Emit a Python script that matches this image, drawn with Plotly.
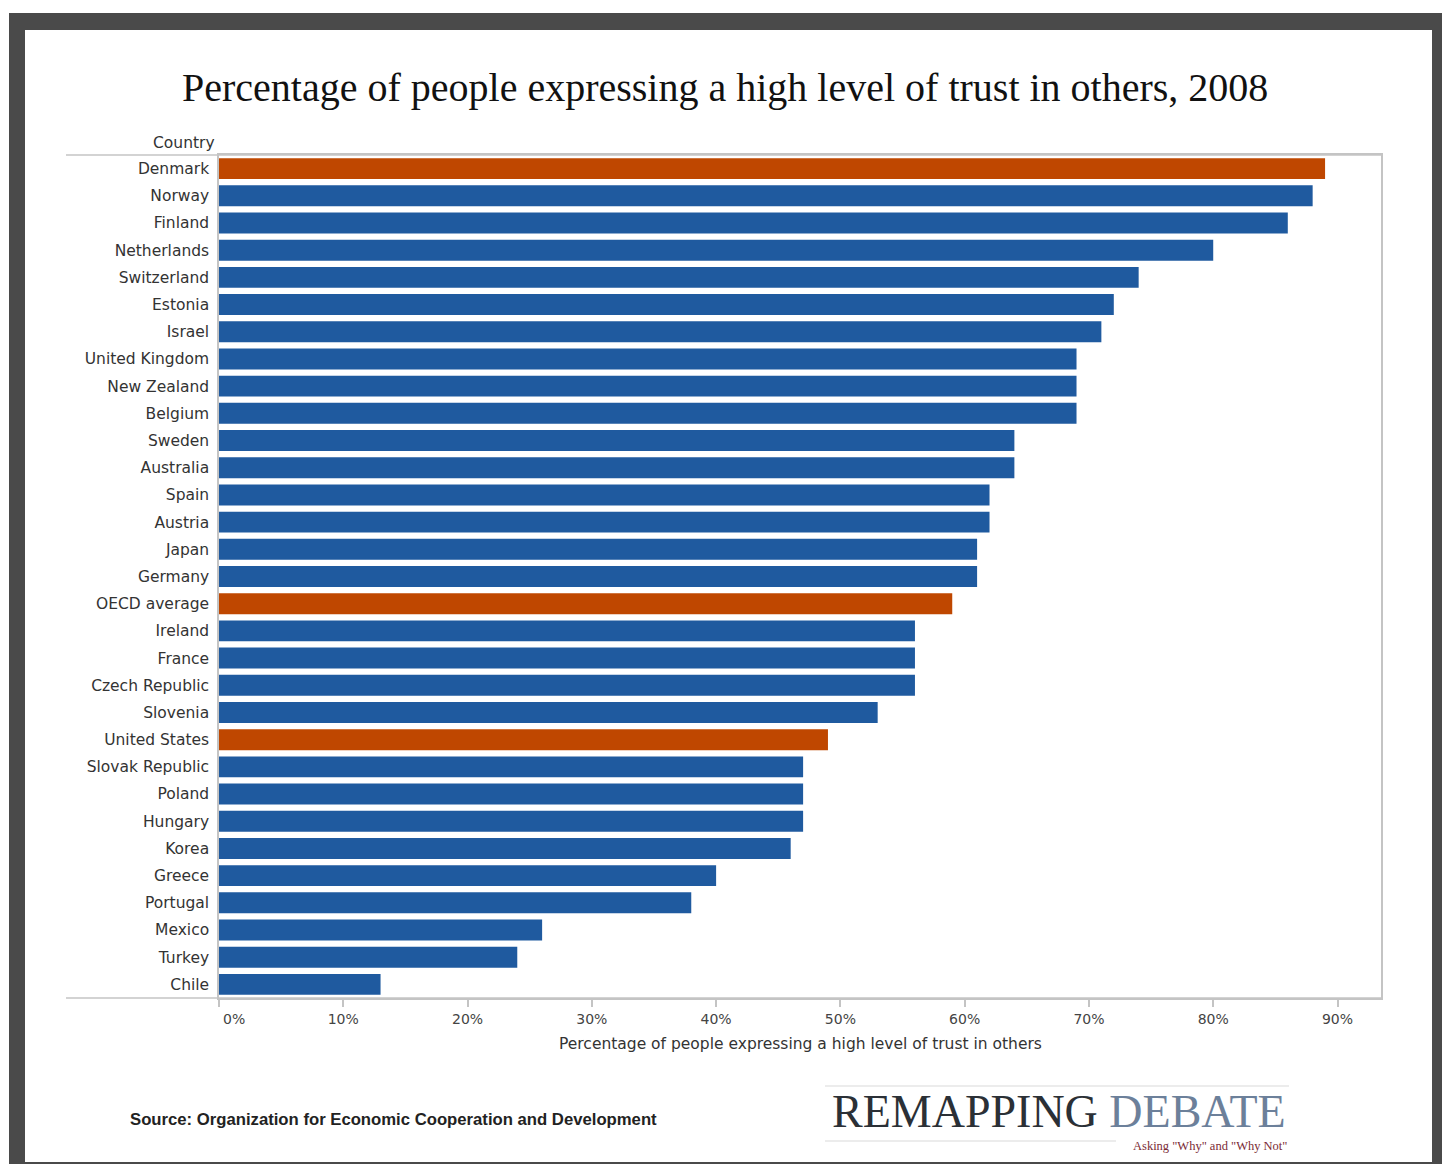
import plotly.graph_objects as go

countries = ["Denmark", "Norway", "Finland", "Netherlands", "Switzerland", "Estonia", "Israel",
             "United Kingdom", "New Zealand", "Belgium", "Sweden", "Australia", "Spain", "Austria",
             "Japan", "Germany", "OECD average", "Ireland", "France", "Czech Republic", "Slovenia",
             "United States", "Slovak Republic", "Poland", "Hungary", "Korea", "Greece", "Portugal",
             "Mexico", "Turkey", "Chile"]
values = [89, 88, 86, 80, 74, 72, 71, 69, 69, 69, 64, 64, 62, 62, 61, 61, 59, 56, 56, 56, 53,
          49, 47, 47, 47, 46, 40, 38, 26, 24, 13]
highlight = ["Denmark", "OECD average", "United States"]
tick_vals = [0, 10, 20, 30, 40, 50, 60, 70, 80, 90]
tick_text = [f"{v}%" for v in tick_vals]

ORANGE = "#BF4700"
BLUE = "#1F5A9F"
colors = [ORANGE if c in highlight else BLUE for c in countries]

W, H = 1442, 1164
L, R, T, B = 219, 1381, 155, 998
SANS = "DejaVu Sans"


def px(x):
    return (x - L) / (R - L)


def py(y):
    return (B - y) / (B - T)


fig = go.Figure()
fig.add_trace(go.Bar(
    y=countries, x=values, orientation="h",
    marker=dict(color=colors, line=dict(width=0)),
    hoverinfo="x+y",
))

shapes = []
# dark frame
shapes.append(dict(type="rect", xref="paper", yref="paper", x0=px(9), x1=px(1442), y0=py(13), y1=py(1164),
                   fillcolor="#4a4a4a", line=dict(width=0), layer="below"))
shapes.append(dict(type="rect", xref="paper", yref="paper", x0=px(25), x1=px(1432), y0=py(30), y1=py(1162),
                   fillcolor="#ffffff", line=dict(width=0), layer="below"))
# extended top/bottom rules
for yy in (T, B):
    shapes.append(dict(type="line", xref="paper", yref="paper", x0=px(66), x1=1, y0=py(yy), y1=py(yy),
                       line=dict(color="#c4c4c4", width=1.5)))
# logo rules
shapes.append(dict(type="line", xref="paper", yref="paper", x0=px(825), x1=px(1289), y0=py(1086), y1=py(1086),
                   line=dict(color="#e6e6e6", width=1.5)))
shapes.append(dict(type="line", xref="paper", yref="paper", x0=px(825), x1=px(1116), y0=py(1141), y1=py(1141),
                   line=dict(color="#e6e6e6", width=1.5)))

# first tick label (0%) sits to the right of its tick, as in the reference
tick_text_axis = [""] + tick_text[1:]

annotations = [
    dict(text="Percentage of people expressing a high level of trust in others, 2008",
         x=px(725), y=py(87), xref="paper", yref="paper", xanchor="center", yanchor="middle",
         showarrow=False, font=dict(family="Liberation Serif", size=40, color="#111111")),
    dict(text="Country", x=px(217), y=py(143), xref="paper", yref="paper", xanchor="right", yanchor="middle",
         showarrow=False, font=dict(family=SANS, size=15.5, color="#333333")),
    dict(text="Percentage of people expressing a high level of trust in others",
         x=0.5, y=py(1044), xref="paper", yref="paper", xanchor="center", yanchor="middle",
         showarrow=False, font=dict(family=SANS, size=15.5, color="#333333")),
    dict(text=tick_text[0], x=tick_vals[0], y=py(1019), xref="x", yref="paper", xanchor="left",
         yanchor="middle", xshift=2, showarrow=False, font=dict(family=SANS, size=14, color="#444444")),
    dict(text="<b>Source: Organization for Economic Cooperation and Development</b>",
         x=px(128), y=py(1119), xref="paper", yref="paper", xanchor="left", yanchor="middle",
         showarrow=False, font=dict(family="Liberation Sans", size=16.7, color="#222222")),
    dict(text="<span style='color:#2b3036'>REMAPPING</span> <span style='color:#6c809a'>DEBATE</span>",
         x=px(1059), y=py(1111), xref="paper", yref="paper", xanchor="center", yanchor="middle",
         showarrow=False, font=dict(family="Liberation Serif", size=46, color="#2b3036")),
    dict(text="Asking \"Why\" and \"Why Not\"",
         x=px(1289), y=py(1146), xref="paper", yref="paper", xanchor="right", yanchor="middle",
         showarrow=False, font=dict(family="Liberation Serif", size=12.5, color="#7b2b35")),
]

fig.update_layout(
    width=W, height=H,
    margin=dict(l=L, r=W - R, t=T, b=H - B, autoexpand=False),
    paper_bgcolor="#ffffff", plot_bgcolor="rgba(0,0,0,0)",
    bargap=0.23,
    showlegend=False,
    shapes=shapes,
    annotations=annotations,
    xaxis=dict(range=[0, 93.5], tickvals=tick_vals, ticktext=tick_text_axis, showgrid=False, zeroline=False,
               showline=True, linecolor="#c4c4c4", linewidth=1.5, mirror=True,
               ticks="outside", ticklen=7, tickcolor="#c4c4c4", tickwidth=1.5,
               tickfont=dict(family=SANS, size=14, color="#444444"), fixedrange=True),
    yaxis=dict(autorange="reversed", showgrid=False, zeroline=False,
               showline=True, linecolor="#c4c4c4", linewidth=1.5, mirror=True,
               ticks="", ticklabelstandoff=5,
               tickfont=dict(family=SANS, size=15.5, color="#333333"), fixedrange=True),
)

fig.write_html("out.html")
